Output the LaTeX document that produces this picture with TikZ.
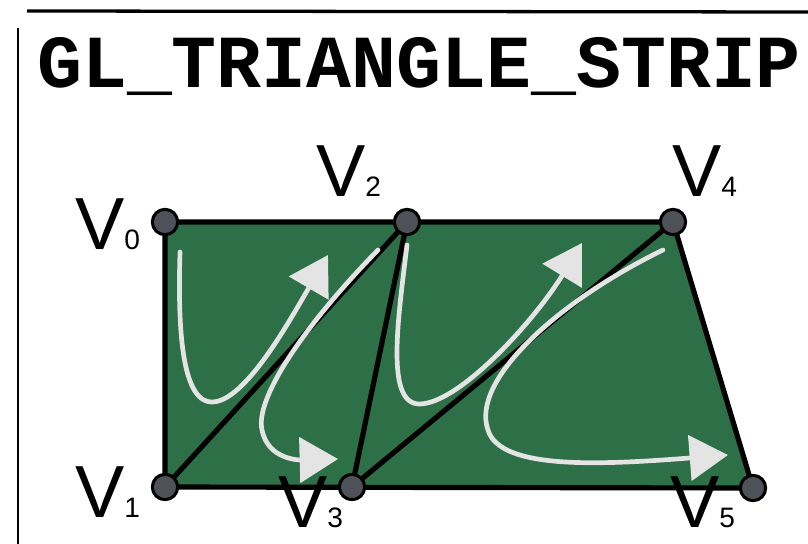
\documentclass[tikz,border=0pt]{standalone}
\usepackage{fontspec}
\setmainfont{Liberation Sans}
\newfontfamily\stripmono{Liberation Mono}
\usetikzlibrary{arrows.meta}
\definecolor{stripGreen}{HTML}{2D7048}
\definecolor{dotGray}{HTML}{4E5258}
\definecolor{chalk}{HTML}{E4E4E4}

\begin{document}
\begin{tikzpicture}[
        x=0.03cm, y=-0.03cm,
        vertex/.style={
            circle,
            draw=black,
            fill=dotGray,
            line width=2.6pt,
            minimum size=0.76cm,
            inner sep=0pt
        },
        vlabel/.style={
            anchor=base west,
            inner sep=0pt,
            font=\fontsize{63}{63}\selectfont
        },
        edge/.style={
            line width=4.4pt,
            line join=round,
            line cap=round
        },
        chalkarrow/.style={
            draw=chalk,
            line width=4pt,
            line cap=round,
            -{Triangle[length=1.15cm, width=1.35cm, fill=chalk]}
        },
        title/.style={
            anchor=base west,
            inner sep=0pt,
            font=\stripmono\bfseries\fontsize{63.9}{64}\selectfont
        }
    ]

    \useasboundingbox (0,0) rectangle (808,544);

    % frame
    \draw[line width=2.8pt] (27,11) -- (808,12);
    \draw[line width=1.3pt] (18,28) -- (18,544);

    \node[title] (title) at (37,88) {GL\_TRIANGLE\_STRIP};

    \foreach \i/\x/\y in {0/165/222,1/165/487,2/407/222,3/352/487,4/673/222,5/753/488}{
        \coordinate (p\i) at (\x,\y);
    }

    \fill[stripGreen] (p0) -- (p4) -- (p5) -- (p1) -- cycle;

    \draw[edge] (p0) -- (p4) -- (p5) -- (p1) -- cycle;
    \draw[edge] (p1) -- (p2) -- (p3) -- (p4);

    % chalk arrows
    \draw[chalkarrow] (180,252) .. controls (178,320) and (180,402) .. (212,402)
        .. controls (245,402) and (290,320) .. (328,255);
    \draw[chalkarrow] (378,250) .. controls (300,330) and (255,400) .. (262,430)
        .. controls (268,460) and (300,460) .. (338,459);
    \draw[chalkarrow] (407,245) .. controls (398,320) and (385,405) .. (420,404)
        .. controls (460,403) and (535,320) .. (582,243);
    \draw[chalkarrow] (663,250) .. controls (560,300) and (470,380) .. (488,430)
        .. controls (500,470) and (600,465) .. (728,455);

    \foreach \i in {0,...,5}{
        \node[vertex] (v\i) at (p\i) {};
    }

    \foreach \i/\x/\y in {0/75/250,1/75/517,2/316/197,3/278/527,4/672/197,5/670/527}{
        \node[vlabel] (l\i) at (\x,\y) {V{\fontsize{24}{24}\selectfont\i}};
    }

\end{tikzpicture}
\end{document}
